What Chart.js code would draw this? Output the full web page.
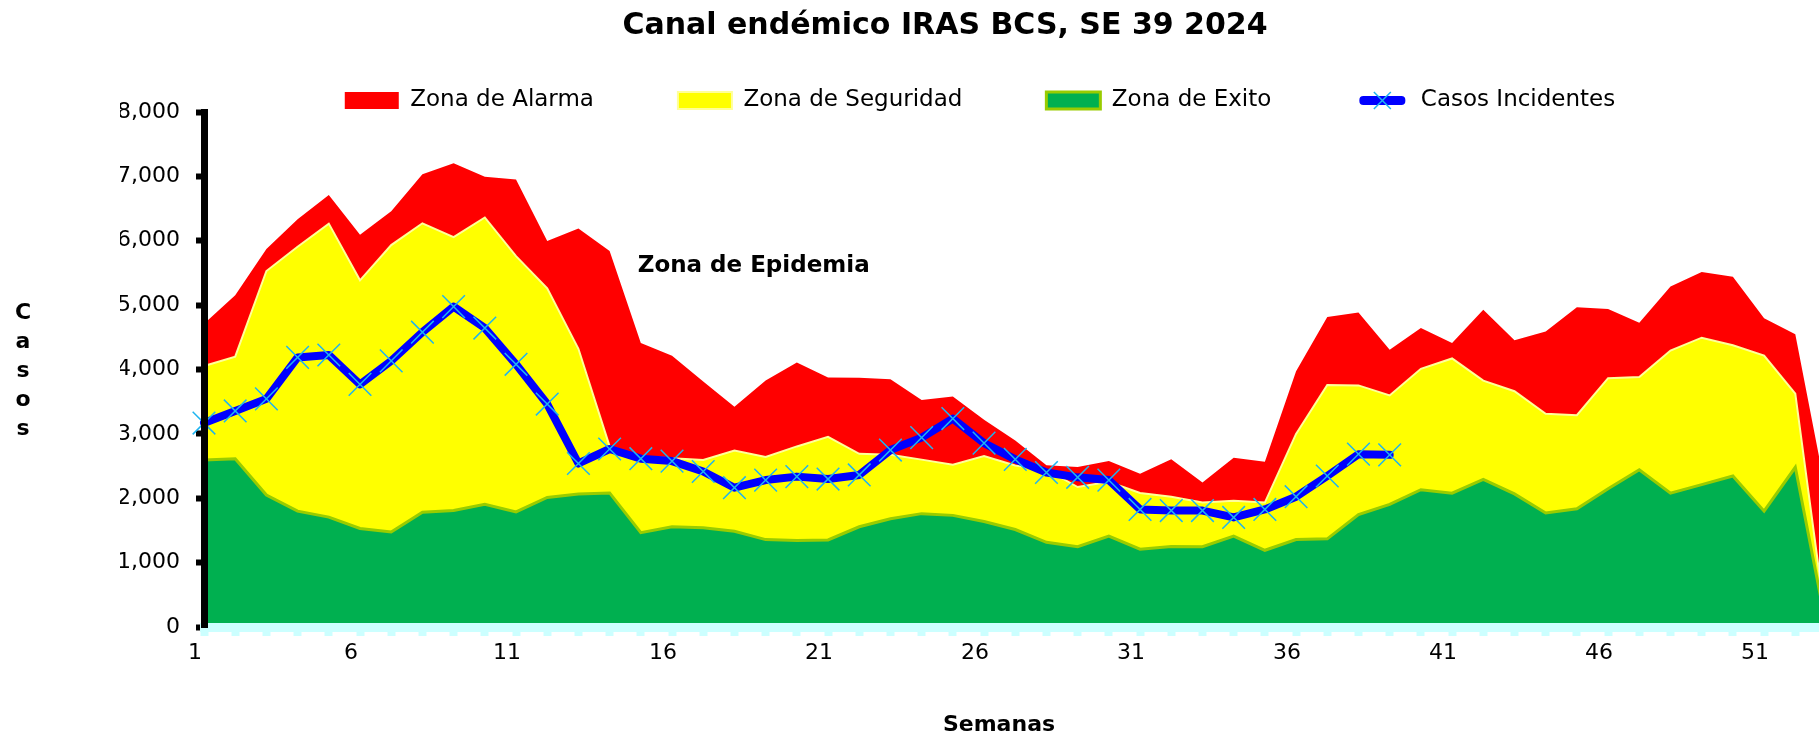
<!DOCTYPE html>
<html>
<head>
<meta charset="utf-8">
<title>Canal endémico IRAS BCS</title>
<script src="https://cdn.jsdelivr.net/npm/chart.js@4.4.1/dist/chart.umd.min.js"></script>
<style>
  html, body { margin: 0; padding: 0; background: #fff; overflow: hidden; }
  canvas { display: block; }
</style>
</head>
<body>
<canvas id="canal" width="1844" height="737"></canvas>
<script>
const chartTitle = "Canal endémico IRAS BCS, SE 39 2024";
const yTitle = "Casos";
const xTitle = "Semanas";
const epidemiaLabel = "Zona de Epidemia";

const weeks = Array.from({ length: 53 }, (_, i) => String(i + 1));

// upper limit of each zone, per week
const alarma = [4710, 5155, 5870, 6335, 6710, 6094, 6459, 7034, 7205, 6996,
  6953, 5997, 6191, 5842, 4413, 4215, 3812, 3420, 3828, 4107,
  3877, 3871, 3850, 3528, 3581, 3221, 2899, 2513, 2486, 2577,
  2379, 2604, 2244, 2631, 2566, 3973, 4816, 4886, 4306, 4644,
  4413, 4929, 4456, 4591, 4966, 4940, 4725, 5289, 5514, 5439,
  4795, 4548, 2050];

const seguridad = [4054, 4199, 5530, 5906, 6266, 5385, 5933, 6271, 6056, 6362,
  5761, 5262, 4322, 2805, 2645, 2620, 2595, 2740, 2640, 2805,
  2955, 2690, 2675, 2600, 2520, 2655, 2510, 2443, 2174, 2255,
  2083, 2024, 1933, 1960, 1933, 3000, 3758, 3753, 3597, 4011,
  4172, 3828, 3662, 3313, 3291, 3866, 3882, 4295, 4494, 4376,
  4215, 3624, 0];

const exito = [2593, 2615, 2051, 1799, 1707, 1530, 1477, 1782, 1809, 1906,
  1788, 2013, 2067, 2083, 1466, 1557, 1541, 1487, 1358, 1342,
  1353, 1557, 1681, 1761, 1734, 1638, 1514, 1315, 1246, 1412,
  1208, 1251, 1246, 1412, 1192, 1358, 1369, 1745, 1906, 2132,
  2078, 2293, 2067, 1772, 1836, 2148, 2443, 2078, 2212, 2346,
  1799, 2481, 0];

const casos = [3168, 3356, 3544, 4188, 4225, 3769, 4134, 4580, 4977, 4644,
  4081, 3463, 2540, 2765, 2615, 2577, 2416, 2164, 2282, 2336,
  2298, 2362, 2749, 2942, 3238, 2856, 2604, 2400, 2325, 2282,
  1826, 1809, 1809, 1702, 1826, 2024, 2346, 2685, 2674];

const yTicks = [0, 1000, 2000, 3000, 4000, 5000, 6000, 7000, 8000];

Chart.defaults.font.family = "'DejaVu Sans', sans-serif";
Chart.defaults.color = "#000";

const markerColor = "#1EB4F0";

const textPlugin = {
  id: "textos",
  afterDraw(chart) {
    const ctx = chart.ctx;
    ctx.save();
    ctx.fillStyle = "#000";

    ctx.font = "bold 30px 'DejaVu Sans'";
    ctx.textAlign = "center";
    ctx.textBaseline = "middle";
    ctx.fillText(chartTitle, 945, 26);

    ctx.font = "bold 22px 'DejaVu Sans'";
    ctx.fillText(xTitle, 999, 725);

    ctx.textBaseline = "alphabetic";
    yTitle.split("").forEach((ch, i) => ctx.fillText(ch, 23, 319 + i * 29));

    const x = chart.scales.x.getPixelForValue(13.9);
    const y = chart.scales.y.getPixelForValue(5600);
    ctx.font = "bold 23px 'DejaVu Sans'";
    ctx.textAlign = "left";
    ctx.textBaseline = "middle";
    ctx.fillText(epidemiaLabel, x, y);

    // cross marker on the legend line
    const boxes = chart.legend.legendHitBoxes;
    if (boxes && boxes[3]) {
      const b = boxes[3];
      const cx = b.left + 27, cy = b.top + 11.5;
      const r = 12 * Math.SQRT1_2;
      ctx.strokeStyle = markerColor;
      ctx.lineWidth = 1.5;
      ctx.beginPath();
      ctx.moveTo(cx - r, cy - r); ctx.lineTo(cx + r, cy + r);
      ctx.moveTo(cx - r, cy + r); ctx.lineTo(cx + r, cy - r);
      ctx.stroke();
    }
    ctx.restore();
  }
};

new Chart(document.getElementById("canal"), {
  type: "line",
  data: {
    labels: weeks,
    datasets: [
      {
        label: "Zona de Alarma",
        data: alarma,
        fill: "+1",
        backgroundColor: "#FF0000",
        borderColor: "#FF0000",
        borderWidth: 0,
        pointRadius: 0,
        order: 3
      },
      {
        label: "Zona de Seguridad",
        data: seguridad,
        fill: "+1",
        backgroundColor: "#FFFF00",
        borderColor: "#FFFF99",
        borderWidth: 2,
        pointRadius: 0,
        order: 2
      },
      {
        label: "Zona de Exito",
        data: exito,
        fill: "origin",
        backgroundColor: "#00B050",
        borderColor: "#99CC00",
        borderWidth: 3,
        pointRadius: 0,
        order: 1
      },
      {
        label: "Casos Incidentes",
        data: casos,
        fill: false,
        backgroundColor: "#0000FF",
        borderColor: "#0000FF",
        borderWidth: 8,
        borderJoinStyle: "round",
        borderCapStyle: "round",
        pointStyle: "crossRot",
        pointRadius: 16,
        pointBorderColor: markerColor,
        pointBorderWidth: 1.5,
        order: 0
      }
    ]
  },
  options: {
    responsive: false,
    animation: false,
    layout: { padding: { top: 5, left: 120, right: 4, bottom: 0 } },
    elements: { line: { tension: 0 } },
    plugins: {
      title: { display: false },
      tooltip: { enabled: false },
      legend: {
        position: "top",
        maxHeight: 107,
        labels: {
          font: { size: 23 },
          color: "#000",
          boxWidth: 54,
          boxHeight: 17,
          padding: 84,
          sort: (a, b) => a.datasetIndex - b.datasetIndex,
          generateLabels(chart) {
            const items = Chart.defaults.plugins.legend.labels.generateLabels(chart);
            items.forEach(it => {
              if (it.datasetIndex === 3) {
                it.fillStyle = "#0000FF";
                it.strokeStyle = "#FFFFFF";
                it.lineWidth = 8;
                it.borderRadius = 8;
              }
              if (it.datasetIndex === 0) it.lineWidth = 0;
            });
            return items;
          }
        }
      }
    },
    scales: {
      x: {
        afterFit(scale) { scale.height = 110; },
        border: { display: true, color: "#CCFFFF", width: 9, z: 1 },
        grid: {
          display: true,
          drawOnChartArea: false,
          drawTicks: true,
          tickLength: 9,
          tickWidth: 8,
          tickColor: "#CCFFFF",
          color: "#CCFFFF"
        },
        ticks: {
          autoSkip: false,
          maxRotation: 0,
          font: { size: 22 },
          color: "#000",
          padding: 4,
          labelOffset: -9,
          callback: (val, i) => (i % 5 === 0 ? weeks[i] : "")
        },
        title: { display: false }
      },
      y: {
        min: 0,
        max: 8000,
        afterFit(scale) { scale.width = 84; },
        afterBuildTicks(scale) { scale.ticks = yTicks.map(v => ({ value: v })); },
        border: { display: true, color: "#000", width: 7, z: 1 },
        grid: {
          display: true,
          drawOnChartArea: false,
          drawTicks: true,
          tickLength: 8,
          tickWidth: 6,
          tickColor: "#000",
          color: "#000"
        },
        ticks: {
          font: { size: 22 },
          color: "#000",
          padding: 16,
          callback: v => v.toLocaleString("en-US")
        }
      }
    }
  },
  plugins: [textPlugin]
});
</script>
</body>
</html>
